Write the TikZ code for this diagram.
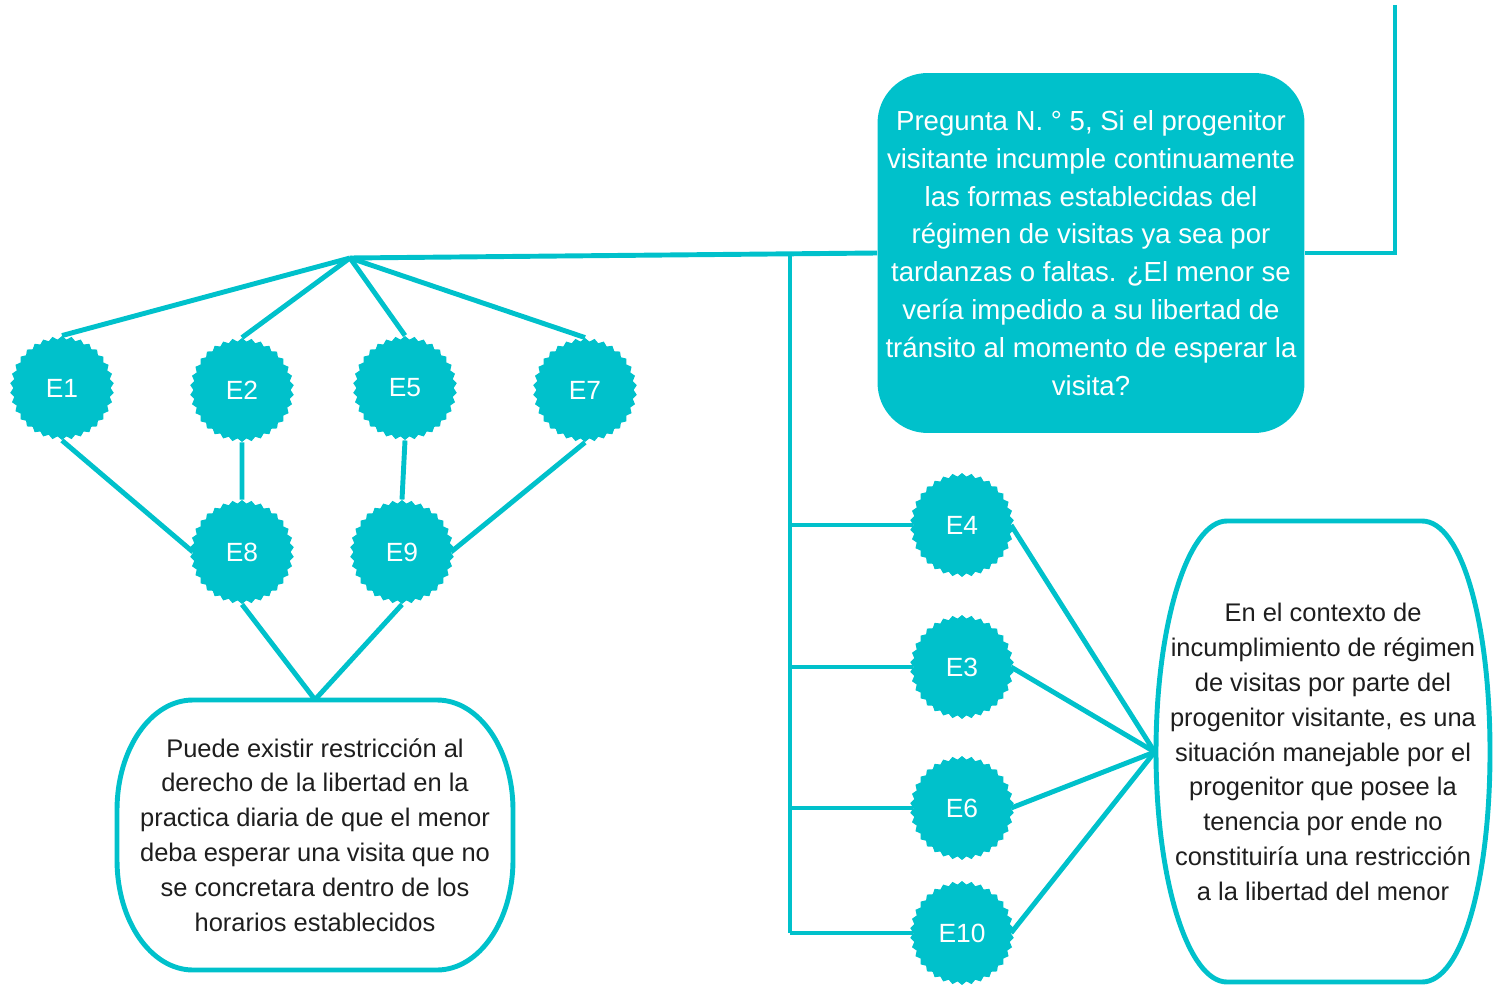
\documentclass[tikz,border=0pt]{standalone}
\usepackage{fontspec}
\setmainfont{Liberation Sans}
\usetikzlibrary{shapes.geometric}
\definecolor{turq}{RGB}{0,193,203}
\definecolor{ink}{RGB}{30,30,30}
\tikzset{
  burst/.style={star, star points=34, star point ratio=1.07, fill=turq, draw=none,
    minimum size=2.08cm, inner sep=0pt, text=white, font=\fontsize{15}{17}\selectfont},
  conc/.style={text=ink, align=center, inner sep=0pt,
    font=\fontsize{14.5}{19.85}\selectfont},
  link/.style={draw=turq, line width=2.8pt}
}
\begin{document}
\begin{tikzpicture}[x=0.02cm, y=-0.02cm]
\useasboundingbox (0,0) rectangle (1493,986);
\node[fill=turq, rounded corners=1cm, minimum width=8.54cm, minimum height=7.2cm,
  text=white, align=center, inner sep=0pt, font=\fontsize{15.7}{21.5}\selectfont]
  (q) at (1091,253) {Pregunta N. ° 5, Si el progenitor\\visitante incumple continuamente\\las formas establecidas del\\régimen de visitas ya sea por\\tardanzas o faltas. ¿El menor se\\vería impedido a su libertad de\\tránsito al momento de esperar la\\visita?};
\node[burst] (e1) at (62,388) {E1};
\node[burst] (e2) at (242,390) {E2};
\node[burst] (e5) at (405,388) {E5};
\node[burst] (e7) at (585,390) {E7};
\node[burst] (e8) at (242,552) {E8};
\node[burst] (e9) at (402,552) {E9};
\node[burst] (e4) at (962,525) {E4};
\node[burst] (e3) at (962,667) {E3};
\node[burst] (e6) at (962,808) {E6};
\node[burst] (e10) at (962,933) {E10};
\node[conc, minimum width=7.92cm, minimum height=5.4cm]
  (c1) at (315,835) {Puede existir restricción al\\derecho de la libertad en la\\practica diaria de que el menor\\deba esperar una visita que no\\se concretara dentro de los\\horarios establecidos};
\node[conc, minimum width=6.72cm, minimum height=9.22cm]
  (c2) at (1323,752) {En el contexto de\\incumplimiento de régimen\\de visitas por parte del\\progenitor visitante, es una\\situación manejable por el\\progenitor que posee la\\tenencia por ende no\\constituiría una restricción\\a la libertad del menor};
% outlines of the two conclusions
\draw[link] (193,700) -- (437,700) .. controls (479,700) and (513,749) .. (513,810)
  -- (513,860) .. controls (513,921) and (479,970) .. (437,970) -- (193,970)
  .. controls (151,970) and (117,921) .. (117,860) -- (117,810)
  .. controls (117,749) and (151,700) .. cycle;
\draw[link] (1227,521) -- (1422,521) .. controls (1462,521) and (1490,624) .. (1490,752)
  .. controls (1490,880) and (1462,982) .. (1422,982) -- (1227,982)
  .. controls (1188,982) and (1156,880) .. (1156,752)
  .. controls (1156,624) and (1188,521) .. cycle;
\coordinate (hub) at (350,258);
\coordinate (top) at (1395,5);
\coordinate (trunk) at (790,252);
% top branch
\draw[link] (top) |- (q.east);
\draw[link] (hub) -- (q.west);
\foreach \e in {e1,e2,e5,e7} {\draw[link] (hub) -- (\e.north);}
\draw[link] (e1.south) -- (e8.west);
\draw[link] (e2.south) -- (e8.north);
\draw[link] (e5.south) -- (e9.north);
\draw[link] (e7.south) -- (e9.east);
\foreach \e in {e8,e9} {\draw[link] (\e.south) -- (c1.north);}
% right branch
\draw[link] (trunk) -- (trunk |- e10.west);
\foreach \e in {e4,e3,e6,e10} {
  \draw[link] (trunk |- \e.west) -- (\e.west);
  \draw[link] (\e.east) -- (c2.west);
}
\end{tikzpicture}
\end{document}
